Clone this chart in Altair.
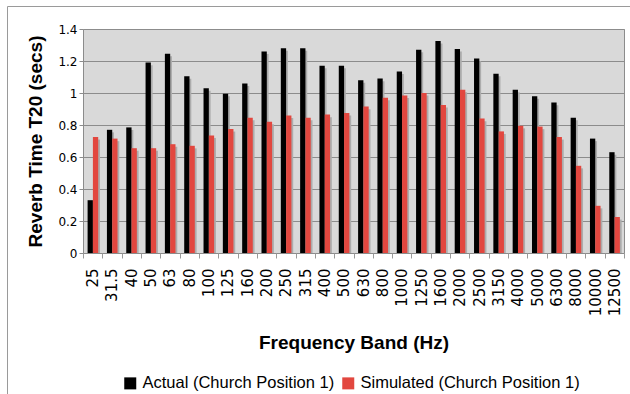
import altair as alt
import pandas as pd

# Third-octave frequency bands and reverberation times (T20, seconds)
bands = ["25", "31.5", "40", "50", "63", "80", "100", "125", "160", "200",
         "250", "315", "400", "500", "630", "800", "1000", "1250", "1600",
         "2000", "2500", "3150", "4000", "5000", "6300", "8000", "10000", "12500"]
actual = [0.33, 0.77, 0.785, 1.19, 1.245, 1.105, 1.03, 0.995, 1.06, 1.26,
          1.28, 1.28, 1.17, 1.17, 1.08, 1.09, 1.135, 1.27, 1.325, 1.275,
          1.215, 1.12, 1.02, 0.98, 0.94, 0.845, 0.715, 0.63]
simulated = [0.725, 0.715, 0.655, 0.655, 0.68, 0.67, 0.735, 0.775, 0.845, 0.82,
             0.86, 0.845, 0.865, 0.875, 0.915, 0.97, 0.985, 1.0, 0.925, 1.02,
             0.84, 0.76, 0.795, 0.79, 0.725, 0.545, 0.295, 0.225]
series = ["Actual (Church Position 1)", "Simulated (Church Position 1)"]
colors = ["#000000", "#e2473f"]

rows = []
for i, b in enumerate(bands):
    rows.append({"band": b, "series": series[0], "value": actual[i]})
    rows.append({"band": b, "series": series[1], "value": simulated[i]})
df = pd.DataFrame(rows)

W, H = 541, 224

x_enc = alt.X(
    "band:N", sort=bands, scale=alt.Scale(paddingInner=0, paddingOuter=0),
    axis=alt.Axis(
        title="Frequency Band (Hz)", tickBand="extent", labelAngle=270,
        labelFont="DejaVu Sans", labelFontSize=15, labelColor="#000000",
        labelPadding=10, tickSize=5, tickColor="#9a9a9a", domain=False,
        grid=False, titleFont="Liberation Sans", titleFontSize=19,
        titleFontWeight="bold", titleColor="#000000",
        titleBaseline="alphabetic", titleY=95,
    ),
)
y_axis = alt.Axis(
    title="Reverb Time T20 (secs)", values=[0, 0.2, 0.4, 0.6, 0.8, 1, 1.2, 1.4],
    format="~g", labelFont="DejaVu Sans", labelFontSize=12, labelColor="#000000",
    labelPadding=2, tickSize=4, tickColor="#8c8c8c", domain=False,
    grid=True, gridColor="#8c8c8c", gridWidth=1,
    titleFont="Liberation Sans", titleFontSize=19, titleFontWeight="bold",
    titleColor="#000000", titleAngle=270, titleBaseline="alphabetic",
    titleAlign="center", titleX=-42, titleY=112,
)
y_scale = alt.Scale(domain=[0, 1.4], nice=False)

# soft drop shadow behind each bar
shadow = alt.Chart(df).transform_calculate(
    shade="datum.value - 0.016"
).mark_bar(color="#acacac").encode(
    x=x_enc,
    xOffset=alt.XOffset("series:N", sort=series,
                        scale=alt.Scale(domain=series, range=[6.4, 17.0],
                                        paddingInner=0, paddingOuter=0)),
    y=alt.Y("shade:Q", scale=y_scale, axis=y_axis),
)

bars = alt.Chart(df).mark_bar().encode(
    x=x_enc,
    xOffset=alt.XOffset("series:N", sort=series,
                        scale=alt.Scale(domain=series, range=[4.6, 15.2],
                                        paddingInner=0, paddingOuter=0)),
    y=alt.Y("value:Q", scale=y_scale, axis=y_axis),
    color=alt.Color(
        "series:N", sort=series,
        scale=alt.Scale(domain=series, range=colors),
        legend=alt.Legend(
            title=None, orient="none", direction="horizontal",
            legendX=39, legendY=346, padding=0,
            symbolType="square", symbolSize=144, symbolStrokeWidth=0,
            labelFont="Liberation Sans", labelFontSize=16.5, labelColor="#000000",
            labelLimit=0, labelOffset=4, columnPadding=5,
        ),
    ),
)

# outer frame around the whole figure
frame_data = pd.DataFrame({"k": [0]})
frame_left = alt.Chart(frame_data).mark_rule(color="#9a9a9a", strokeWidth=1).encode(
    x=alt.value(-75.5), y=alt.value(-22.5), y2=alt.value(H + 141)
)
frame_top = alt.Chart(frame_data).mark_rule(color="#9a9a9a", strokeWidth=1).encode(
    x=alt.value(-75.5), x2=alt.value(W + 6), y=alt.value(-22.5)
)

chart = alt.layer(shadow, bars, frame_left, frame_top).resolve_scale(
    xOffset="independent"
).properties(
    width=W, height=H,
    autosize=alt.AutoSizeParams(type="none"),
    padding={"left": 83, "top": 29, "right": 6, "bottom": 141},
    background="#ffffff",
).configure_view(
    fill="#d9d9d9", stroke="#8c8c8c", strokeWidth=1
)

chart.save("out.html", embed_options={"renderer": "svg", "actions": False})
